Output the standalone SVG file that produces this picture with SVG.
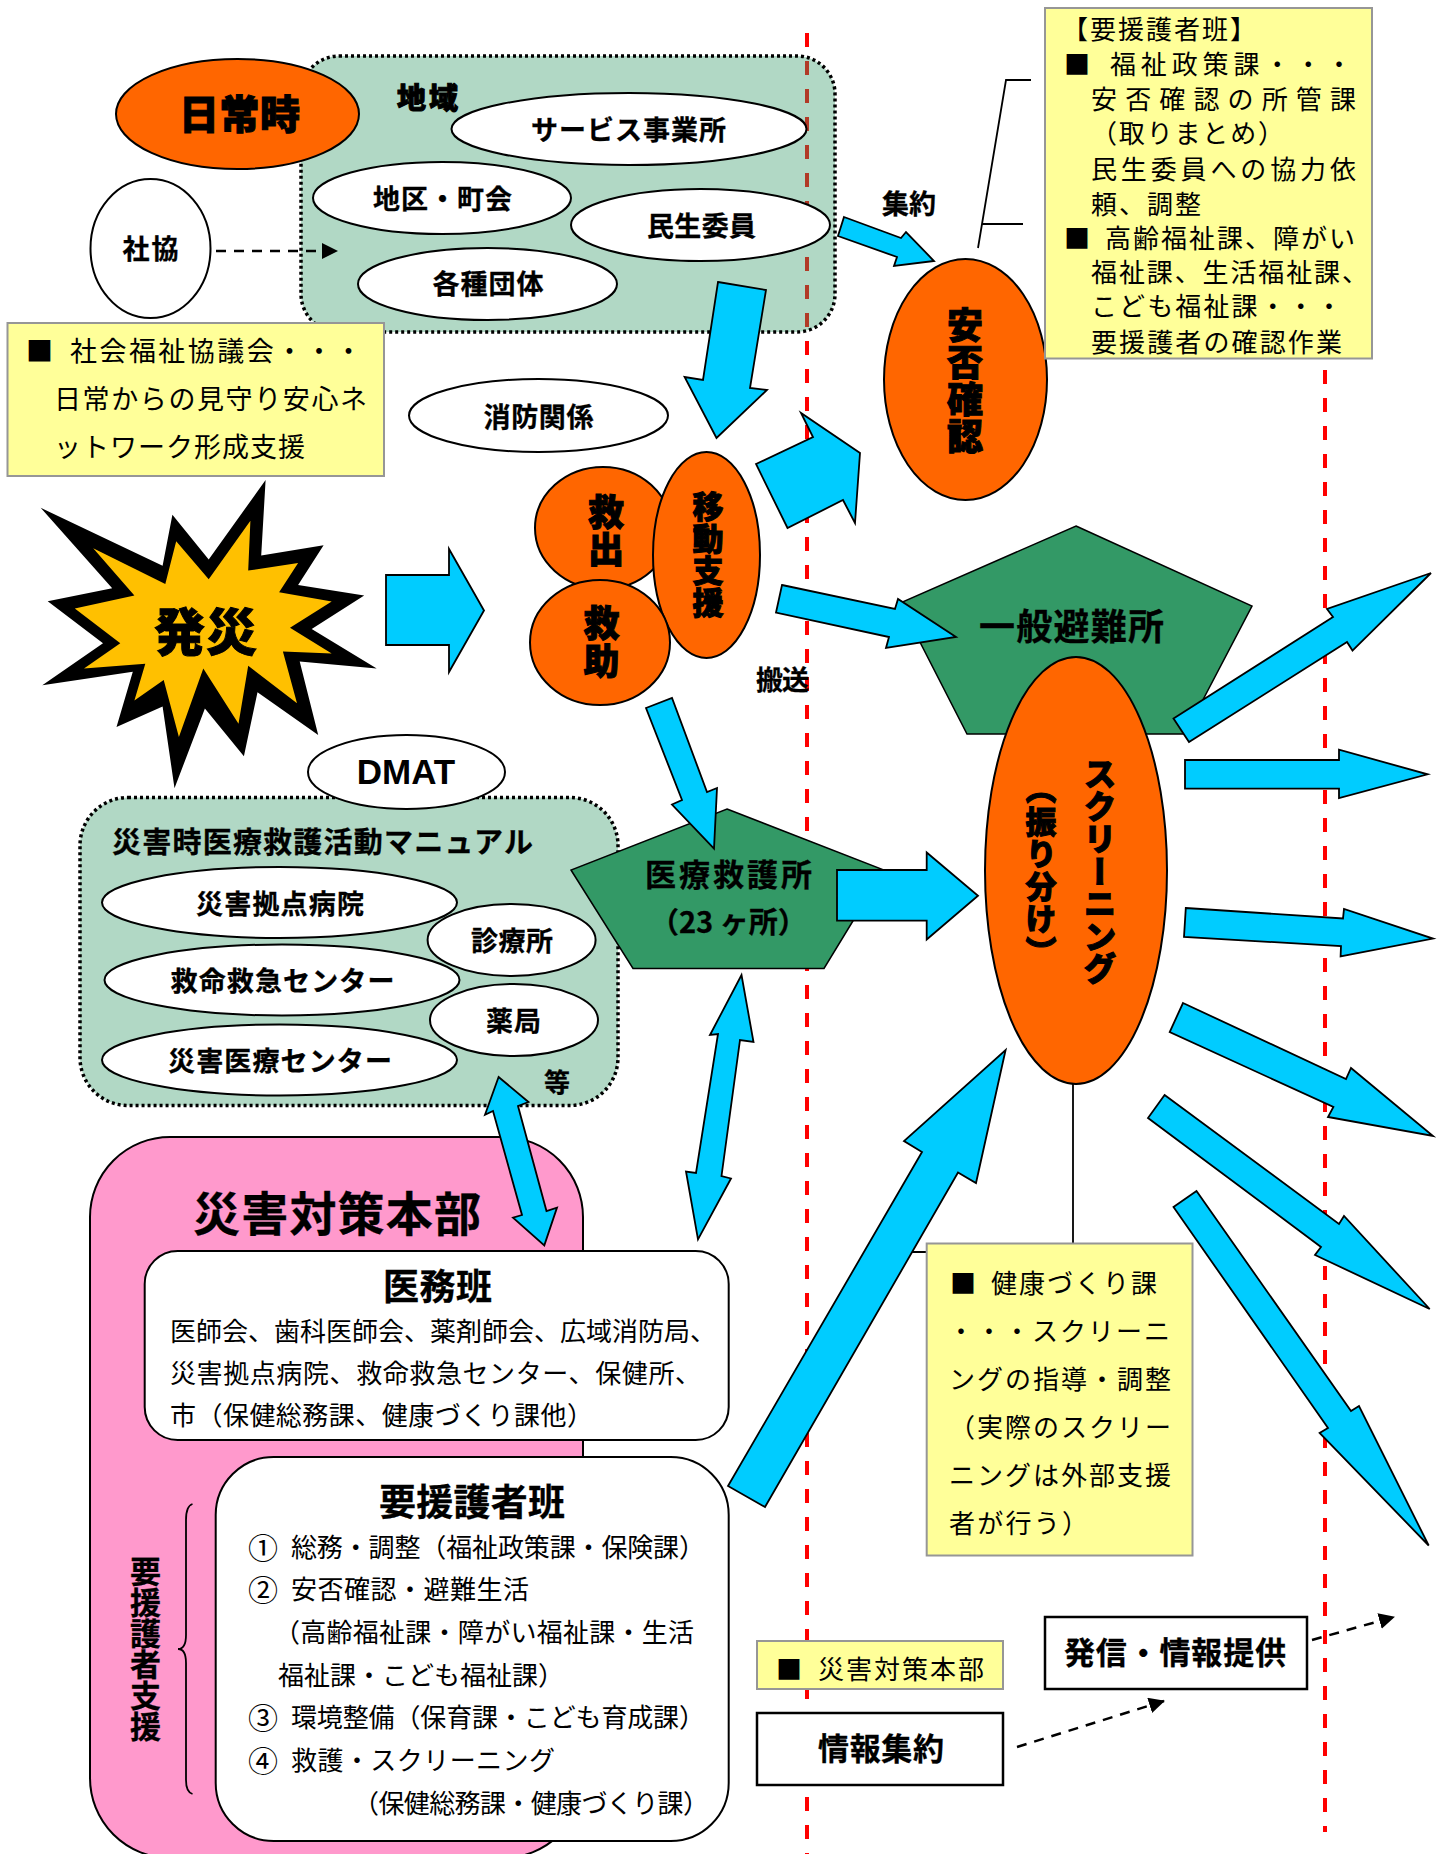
<svg xmlns="http://www.w3.org/2000/svg" width="1445" height="1854" viewBox="0 0 1445 1854">
<style>
text{font-family:"Noto Sans CJK JP","Noto Sans",sans-serif;fill:#000;dominant-baseline:central;transform:translateY(-1.5px)}
.r{font-weight:400}
.b{font-weight:700;stroke:#000;stroke-width:.3px}
.h{font-weight:900;stroke:#000;stroke-width:1px}
.v{writing-mode:vertical-rl;transform:none}
.c{text-anchor:middle}
.e{stroke:#000;stroke-width:2}
.o{fill:#ff6600}
.w{fill:#fff}
.y{fill:#ffff99;stroke:#969696;stroke-width:2}
.g{fill:#339966;fill-opacity:.38;stroke:#000;stroke-width:3.5;stroke-dasharray:3 3}
.p{fill:#339966;stroke:#000;stroke-width:1.5}
.a{fill:#00ccff;stroke:#000;stroke-width:1.8}
.red{stroke:#ff0000;stroke-width:4;stroke-dasharray:14 14;fill:none}
.d{stroke:#000;stroke-width:2.5;stroke-dasharray:10 8;fill:none}
.l{stroke:#000;stroke-width:1.8;fill:none}
.box{fill:#fff;stroke:#000;stroke-width:2.5}
.f25{font-size:26px}.f26{font-size:27px}.f27{font-size:27px}.n{font-size:30px}
</style>
<defs>
<marker id="ah" markerUnits="userSpaceOnUse" markerWidth="18" markerHeight="18" refX="15" refY="8" orient="auto"><path d="M0,0L16,8L0,16Z" fill="#000"/></marker>
</defs>
<g id="guides">
<line class="red" x1="807" y1="33" x2="807" y2="1854"/>
<line class="red" x1="1325" y1="370" x2="1325" y2="1832"/>
</g>
<g id="region-community">
<rect class="g" x="301" y="56" width="534" height="276" rx="38" ry="38"/>
<text class="h f27" x="397" y="97" style="font-size:29px" textLength="61">地域</text>
</g>
<g id="node-daily"><ellipse class="e o" cx="237.5" cy="114" rx="121.5" ry="55"/><text class="h" x="179" y="113.5" style="font-size:40px" textLength="121">日常時</text></g>
<g id="node-service"><ellipse class="e w" cx="629" cy="129" rx="177.5" ry="36"/><text class="b f27" x="531" y="130" textLength="195">サービス事業所</text></g>
<g id="node-district"><ellipse class="e w" cx="442" cy="198" rx="129" ry="36"/><text class="b f27" x="373" y="199" textLength="139">地区・町会</text></g>
<g id="node-welfare-commissioner"><ellipse class="e w" cx="700.5" cy="225" rx="129.5" ry="36"/><text class="b f27" x="647" y="226" textLength="109">民生委員</text></g>
<g id="node-groups"><ellipse class="e w" cx="487.5" cy="284" rx="129.5" ry="36"/><text class="b f27" x="432.5" y="284" textLength="111">各種団体</text></g>
<g id="node-shakyo"><ellipse class="e w" cx="150.5" cy="248.5" rx="60" ry="69.5"/><text class="b f27" x="122.5" y="249" textLength="56">社協</text></g>
<g id="note-shakyo">
<rect class="y" x="7.5" y="323" width="376.5" height="153"/>
<text class="r f26" x="26" y="351">■</text>
<text class="r f26" x="70" y="351" textLength="292">社会福祉協議会・・・</text>
<text class="r f26" x="54" y="399" textLength="313">日常からの見守り安心ネ</text>
<text class="r f26" x="54" y="447" textLength="251">ットワーク形成支援</text>
</g>
<g id="node-fire"><ellipse class="e w" cx="538.5" cy="415.5" rx="129.5" ry="36.5"/><text class="b f27" x="483.5" y="417" textLength="110">消防関係</text></g>
<g id="node-disaster">
<polygon fill="#000" points="265.6,480 261.2,555.5 323.6,545.3 298.1,584.9 364.2,595.5 311.7,629 376.7,668.6 299.7,661.6 318.2,735.1 257.5,692.2 243.9,756.3 204.9,708.6 174.5,788.2 162.6,706.5 116.5,726.9 132.8,671.8 42.3,685.3 103,643.3 47.7,601.2 112.2,588.2 40.7,507.8 162.6,565.7 172.4,514.7 208.7,559.6"/>
<polygon fill="#ffc000" points="250.4,520.8 248.2,570.6 298.1,562.9 279.1,592.2 331.7,601.6 290,627.8 331.7,653.5 282.9,651.4 297,703.3 248.2,665.7 238.5,723.7 203.3,668.6 178.9,737.1 163.7,680 134.4,700.4 145.3,663.7 84,668.6 120.3,643.3 74.8,608.6 134.4,595.5 93.2,548.2 165.3,584.1 176.2,541.2 208.7,579.2"/>
<text class="h" x="154" y="630" style="font-size:51px" textLength="103">発災</text>
</g>
<g id="node-rescue-out"><ellipse class="e o" cx="603" cy="528" rx="68" ry="61"/><text class="h v" x="606" y="494" style="font-size:36px;letter-spacing:1px">救出</text></g>
<g id="node-transport"><ellipse class="e o" cx="706.5" cy="555" rx="53.5" ry="103"/><text class="h v" x="708" y="491" style="font-size:31px;letter-spacing:1px">移動支援</text></g>
<g id="node-rescue"><ellipse class="e o" cx="600" cy="642.5" rx="70" ry="62.5"/><text class="h v" x="601.5" y="605" style="font-size:36px;letter-spacing:2px">救助</text></g>
<g id="node-safety"><ellipse class="e o" cx="965.5" cy="379.5" rx="81.5" ry="120.5"/><text class="h v" x="965" y="307" style="font-size:36px;letter-spacing:1px">安否確認</text></g>
<g id="note-support-team">
<rect class="y" x="1045" y="8" width="327" height="350.5"/>
<text class="r f25" x="1062" y="29" textLength="194">【要援護者班】</text>
<text class="r f25" x="1064" y="64">■</text>
<text class="r f25" x="1110" y="64" textLength="242">福祉政策課・・・</text>
<text class="r f25" x="1091" y="99" textLength="265">安否確認の所管課</text>
<text class="r f25" x="1091" y="133" textLength="193">（取りまとめ）</text>
<text class="r f25" x="1091" y="169" textLength="265">民生委員への協力依</text>
<text class="r f25" x="1091" y="204" textLength="110">頼、調整</text>
<text class="r f25" x="1064" y="238">■</text>
<text class="r f25" x="1105" y="238" textLength="250">高齢福祉課、障がい</text>
<text class="r f25" x="1091" y="272" textLength="277">福祉課、生活福祉課、</text>
<text class="r f25" x="1091" y="306" textLength="251">こども福祉課・・・</text>
<text class="r f25" x="1091" y="342" textLength="251">要援護者の確認作業</text>
</g>
<g id="node-shelter"><polygon class="p" points="1076,526 1252,606 1185,734 967,734 900,603"/><text class="b" x="979" y="625" style="font-size:36px" textLength="185">一般避難所</text></g>
<g id="region-manual">
<rect class="g" x="80" y="797.5" width="538" height="308" rx="48" ry="48"/>
<text class="b" x="112" y="841" style="font-size:29px" textLength="421">災害時医療救護活動マニュアル</text>
<text class="b f25" x="544" y="1082">等</text>
</g>
<g id="node-dmat"><ellipse class="e w" cx="406.5" cy="772" rx="98.5" ry="37"/><text x="406" y="773" class="c" style="font-family:'Liberation Sans',sans-serif;font-weight:700;font-size:35px">DMAT</text></g>
<g id="node-base-hospital"><ellipse class="e w" cx="279.5" cy="902.5" rx="177.5" ry="35.5"/><text class="b f27" x="196" y="904" textLength="168">災害拠点病院</text></g>
<g id="node-emergency-center"><ellipse class="e w" cx="282" cy="980" rx="177.5" ry="35.5"/><text class="b f27" x="170.5" y="981" textLength="224">救命救急センター</text></g>
<g id="node-medical-center"><ellipse class="e w" cx="279.5" cy="1060" rx="177.5" ry="35.5"/><text class="b f27" x="168" y="1061" textLength="224">災害医療センター</text></g>
<g id="node-clinic"><ellipse class="e w" cx="511.6" cy="940" rx="84" ry="36"/><text class="b f27" x="471" y="941" textLength="82">診療所</text></g>
<g id="node-pharmacy"><ellipse class="e w" cx="514" cy="1020" rx="84" ry="36"/><text class="b f27" x="486" y="1021" textLength="55">薬局</text></g>
<g id="node-aid-station">
<polygon class="p" points="727,809 884,870 824,968.5 633,968.5 571,870"/>
<text class="b" x="645" y="874" style="font-size:31px" textLength="167">医療救護所</text>
<text class="b" x="650" y="921" style="font-size:29px" xml:space="preserve">（23 ヶ所）</text>
</g>
<g id="node-screening"><ellipse class="e o" cx="1076" cy="870.4" rx="91" ry="213.5"/>
<text class="h v" x="1100" y="757" style="font-size:33px;letter-spacing:-.5px">スクリーニング</text>
<text class="h v" x="1041" y="773" style="font-size:31px;letter-spacing:1.5px">（振り分け）</text></g>
<g id="node-hq">
<rect x="90" y="1137" width="493" height="721" rx="80" ry="80" fill="#ff99cc" stroke="#000" stroke-width="2"/>
<text class="b" x="193" y="1212" style="font-size:47px" textLength="288">災害対策本部</text>
<path class="l" d="M192.5,1504Q186,1506 186,1520L186,1635Q186,1649 178,1649Q186,1649 186,1663L186,1780Q186,1792 192.500,1794"/>
<text class="b v" x="145.500" y="1556" style="font-size:31px">要援護者支援</text>
</g>
<g id="node-medical-team">
<rect class="e w" x="144.700" y="1251" width="584" height="189" rx="33" ry="33"/>
<text class="b" x="383" y="1285" style="font-size:36px" textLength="109">医務班</text>
<text class="r f25" x="170" y="1331" textLength="546">医師会、歯科医師会、薬剤師会、広域消防局、</text>
<text class="r f25" x="170" y="1373" textLength="531">災害拠点病院、救命救急センター、保健所、</text>
<text class="r f25" x="170" y="1415" textLength="423">市（保健総務課、健康づくり課他）</text>
</g>
<g id="node-support-team">
<rect class="e w" x="215.700" y="1457" width="513" height="384" rx="58" ry="58"/>
<text class="b" x="379" y="1501" style="font-size:37px" textLength="186">要援護者班</text>
<text class="r n" x="248" y="1547">①</text><text class="r f25" x="291" y="1547" textLength="414">総務・調整（福祉政策課・保険課）</text>
<text class="r n" x="248" y="1589">②</text><text class="r f25" x="291" y="1589" textLength="238">安否確認・避難生活</text>
<text class="r f25" x="274" y="1632" textLength="420">（高齢福祉課・障がい福祉課・生活</text>
<text class="r f25" x="278" y="1675" textLength="286">福祉課・こども福祉課）</text>
<text class="r n" x="248" y="1717">③</text><text class="r f25" x="291" y="1717" textLength="414">環境整備（保育課・こども育成課）</text>
<text class="r n" x="248" y="1760">④</text><text class="r f25" x="291" y="1760" textLength="264">救護・スクリーニング</text>
<text class="r f25" x="353" y="1803" textLength="356">（保健総務課・健康づくり課）</text>
</g>
<g id="connectors">
<path class="l" d="M1031,80H1006L978,248M1023,224H982"/>
<path class="l" d="M1073,1084V1243M905,1252H927"/>
<path class="d" d="M216,251H337" marker-end="url(#ah)"/>
<path class="d" d="M1017,1747L1164,1701" marker-end="url(#ah)"/>
<path class="d" d="M1312,1640L1394,1617" marker-end="url(#ah)"/>
<polygon class="a" points="844,217 901,238 906,232 934,261 894,266 897,257 838,236"/>
<polygon class="a" points="718,282 766,290 750,388 767,390 716.500,438 684.600,377 703,380"/>
<polygon class="a" points="756,464 813,437 801,413 860,453 855,523 843,500 787.500,528"/>
<polygon class="a" points="386,575 449,575 449,549 484,610.500 449,672 449,645 386,645"/>
<polygon class="a" points="782,585 895,609 898,599 956,637 886,648 889,637 776,612.600"/>
<polygon class="a" points="646,708 672,698 707,792 717,788 714,848.600 672,804.500 682,800"/>
<polygon class="a" points="837,870 926.700,870 926.700,852.500 978,895.700 926.700,939.500 926.700,920.700 837,920.700"/>
<polygon class="a" points="1173.500,718.500 1333,617 1327,609 1431,573 1352.500,650.600 1347,642 1189,742"/>
<polygon class="a" points="1185,760 1339,760 1339,749.700 1427.600,774.300 1339,798 1339,788.600 1185,788.600"/>
<polygon class="a" points="1185.800,908 1343,918.500 1344,909 1433,938.600 1340.600,956.400 1341,946 1184,937"/>
<polygon class="a" points="1183,1003 1346,1079 1351,1068 1433,1136 1328,1117 1333.400,1107 1169.700,1032"/>
<polygon class="a" points="1164.600,1095 1339,1224 1344,1216 1429.700,1309 1315,1255 1321,1247 1148,1118"/>
<polygon class="a" points="1196.500,1191 1351,1411 1359,1406 1428.700,1545.500 1319.600,1433 1328,1428 1173.500,1207"/>
<polygon class="a" points="728,1486 922,1152 904,1141 1005.600,1050 976,1183 958,1172.500 765,1507"/>
<polygon class="a" points="741.500,975 753.500,1042 740,1040 721.500,1176 731,1178.500 698,1239.400 686,1171.500 696,1173 718,1034 710,1035"/>
<polygon class="a" points="498.600,1077 528.500,1102 518,1106 546.500,1211 557,1207.600 544.300,1245.400 513,1217.700 522,1215 493,1111 485,1114.700"/>
</g>
<g id="label-collect"><text class="b f27" x="882" y="204" textLength="54">集約</text></g>
<g id="label-transport"><text class="b f26" x="756" y="680" textLength="53">搬送</text></g>
<g id="note-health">
<rect class="y" x="926.700" y="1243.500" width="265.800" height="312"/>
<text class="r f25" x="950" y="1283">■</text>
<text class="r f25" x="991" y="1283" textLength="166">健康づくり課</text>
<text class="r f25" x="948" y="1331" textLength="222">・・・スクリーニ</text>
<text class="r f25" x="949" y="1379" textLength="222">ングの指導・調整</text>
<text class="r f25" x="949" y="1427" textLength="222">（実際のスクリー</text>
<text class="r f25" x="949" y="1475" textLength="222">ニングは外部支援</text>
<text class="r f25" x="949" y="1523" textLength="139">者が行う）</text>
</g>
<g id="note-hq">
<rect class="y" x="757" y="1641" width="246" height="48"/>
<text class="r f25" x="776" y="1669">■</text>
<text class="r f25" x="818" y="1669" textLength="166">災害対策本部</text>
</g>
<g id="node-collect-info"><rect class="box" x="757" y="1713" width="246" height="72"/><text class="b" x="818" y="1748" style="font-size:31px" textLength="126">情報集約</text></g>
<g id="node-send-info"><rect class="box" x="1045" y="1617" width="262" height="72"/><text class="b" x="1064" y="1652" style="font-size:31px" textLength="222">発信・情報提供</text></g>
</svg>
